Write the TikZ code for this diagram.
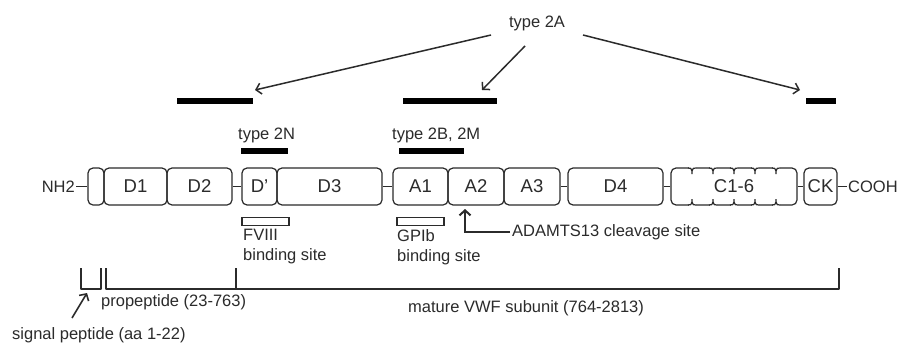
\documentclass[tikz,border=0pt]{standalone}
\usepackage{fontspec}
\setmainfont{Liberation Sans}
\usetikzlibrary{arrows.meta}
\definecolor{ink}{HTML}{2B2B2B}
\begin{document}
\begin{tikzpicture}[x=1pt,y=-1pt,
  every node/.style={text=ink, font=\fontsize{16.5}{20}\selectfont, inner sep=0pt},
  dom/.style={draw=ink, line width=1.2pt, rounded corners=5pt, minimum height=37pt,
              font=\fontsize{18.5}{20}\selectfont},
  link/.style={draw=ink, line width=1.8pt},
  bar/.style={fill=black, minimum height=6pt},
  site/.style={draw=ink, line width=1.2pt, minimum height=8pt},
  brk/.style={draw=ink, line width=2pt, line join=round},
  arr/.style={draw=ink, line width=1.5pt, -{Straight Barb[length=5pt,width=11pt]}},
]
\useasboundingbox (0,0) rectangle (899,343);
\fill[white] (0,0) rectangle (899,343);

% domain boxes of the VWF subunit
\node[dom, minimum width=16pt]  (sp)  at (96,186.5)    {};
\node[dom, minimum width=63pt]  (d1)  at (135.5,186.5) {D1};
\node[dom, minimum width=65pt]  (d2)  at (199.5,186.5) {D2};
\node[dom, minimum width=35pt]  (dp)  at (259.5,186.5) {D'};
\node[dom, minimum width=105pt] (d3)  at (329.5,186.5) {D3};
\node[dom, minimum width=55pt]  (a1)  at (420.5,186.5) {A1};
\node[dom, minimum width=56pt]  (a2)  at (476,186.5)   {A2};
\node[dom, minimum width=56pt]  (a3)  at (532,186.5)   {A3};
\node[dom, minimum width=95pt]  (d4)  at (615.5,186.5) {D4};
\node[dom, minimum width=126pt] (c16) at (734,186.5)   {C1-6};
\node[dom, minimum width=33pt]  (ck)  at (820.5,186.5) {CK};

% joints between the six C domains
\foreach \x in {692,713,734,755,776} {
  \fill[white] (\x-3.5,166.5) rectangle (\x+3.5,169.5);
  \fill[white] (\x-3.5,203.5) rectangle (\x+3.5,206.5);
  \draw[ink, line width=1.2pt] (\x-4,168) .. controls (\x-1,168) .. (\x,171) -- (\x,174);
  \draw[ink, line width=1.2pt] (\x+4,168) .. controls (\x+1,168) .. (\x,171);
  \draw[ink, line width=1.2pt] (\x-4,205) .. controls (\x-1,205) .. (\x,202) -- (\x,199);
  \draw[ink, line width=1.2pt] (\x+4,205) .. controls (\x+1,205) .. (\x,202);
}

% termini and linkers
\node[anchor=east, inner sep=1pt] (nh2) at (76,186.5) {NH2};
\node[anchor=west, inner sep=1pt] (cooh) at (847,186.5) {COOH};
\draw[link] (nh2.east) -- (sp.west);
\draw[link] (d2.east) -- (dp.west);
\draw[link] (d3.east) -- (a1.west);
\draw[link] (a3.east) -- (d4.west);
\draw[link] (d4.east) -- (c16.west);
\draw[link] (c16.east) -- (ck.west);
\draw[link] (ck.east) -- (cooh.west);

% mutation clusters
\node (t2a) at (537,23) {type 2A};
\node[bar, minimum width=76pt] (m2a1) at (215,101)   {};
\node[bar, minimum width=94pt] (m2a2) at (450,101)   {};
\node[bar, minimum width=30pt] (m2a3) at (821,101)   {};
\coordinate (a1s) at (491,35);  \coordinate (a1e) at (255,90);
\coordinate (a2s) at (525,46);  \coordinate (a2e) at (482,90);
\coordinate (a3s) at (583,35);  \coordinate (a3e) at (800,90);
\draw[arr] (a1s) -- (a1e);
\draw[arr] (a2s) -- (a2e);
\draw[arr] (a3s) -- (a3e);

\node[anchor=west] (t2n) at (238,135) {type 2N};
\node[bar, minimum width=47pt] (m2n) at (264.5,150.5) {};
\node[anchor=west] (t2b) at (392,135) {type 2B, 2M};
\node[bar, minimum width=65pt] (m2b) at (431.5,150.5) {};

% binding sites
\node[site, minimum width=47pt] (fviii) at (265.5,221.5) {};
\node[anchor=west, align=left] (fviiit) at (243,247) {FVIII\\binding site};
\node[site, minimum width=47pt] (gpib) at (420.5,221.5) {};
\node[anchor=west, align=left] (gpibt) at (397,247) {GPIb\\binding site};

% cleavage site
\node[anchor=west] (adamts) at (512,232) {ADAMTS13 cleavage site};
\coordinate (cleave) at (465,209);
\draw[arr, line width=2pt] ([xshift=-2pt]adamts.west) -| (cleave);

% processing brackets
\draw[brk] (81,268) -- (81,289) -- (101,289) -- (101,268);
\draw[brk] (106,268) -- (106,289) -- (236,289) -- (236,268);
\draw[brk] (236,268) -- (236,289) -- (839,289) -- (839,268);
\node[anchor=west] (pro) at (101,302) {propeptide (23-763)};
\node[anchor=west] (mat) at (408,308) {mature VWF subunit (764-2813)};
\node[anchor=west] (sig) at (12,335) {signal peptide (aa 1-22)};
\coordinate (sigtail) at (72,318);
\coordinate (sigtip) at (87,293);
\draw[arr, line width=1.6pt] (sigtail) -- (sigtip);
\end{tikzpicture}
\end{document}
